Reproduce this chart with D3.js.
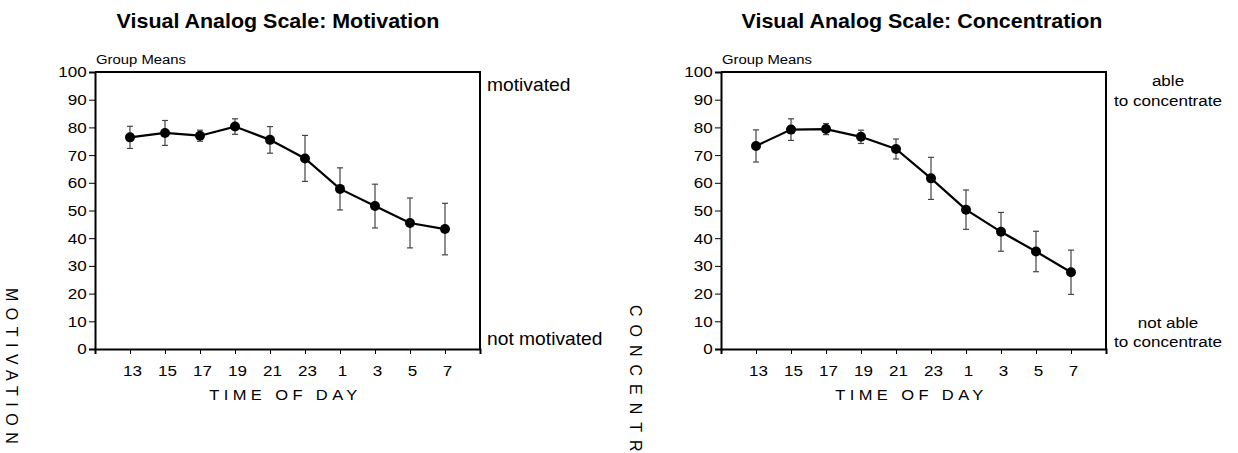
<!DOCTYPE html>
<html>
<head>
<meta charset="utf-8">
<script src="https://cdn.jsdelivr.net/npm/d3@7"></script>
<style>
	body { margin: 0; background: #fff; }
	svg { font-family: "Liberation Sans", Arial, sans-serif; }
	.axis path, .axis line { stroke: #000; }
	.axis text { fill: #000; }
</style>
</head>
<body>
<div id="chart"></div>
<script>

	// time of day labels (one per measurement)
	var hours = ["13", "15", "17", "19", "21", "23", "1", "3", "5", "7"];

	// motivation group means and error half-widths
	var motivationMeans = [76.4, 78.0, 77.0, 80.3, 75.5, 68.8, 57.8, 51.6, 45.5, 43.3];
	var motivationErr = [4.0, 4.5, 2.0, 2.8, 4.8, 8.3, 7.6, 7.9, 9.0, 9.3];

	// concentration group means and error half-widths
	var concentrationMeans = [73.3, 79.2, 79.4, 76.6, 72.2, 61.6, 50.3, 42.3, 35.2, 27.7];
	var concentrationErr = [5.8, 3.9, 2.0, 2.4, 3.6, 7.6, 7.1, 7.0, 7.3, 8.0];

	var yTicks = [0, 10, 20, 30, 40, 50, 60, 70, 80, 90, 100];

	// glyphs in the original are a bit wider than they are tall
	var SX = 1.1;

	var svg = d3.select("#chart").append("svg")
	.attr("width", 1238)
	.attr("height", 453);

	// text placed at (x, y) and stretched horizontally
	var addText = function(parent, x, y, lines, size, anchor, weight, gap) {
		var t = parent.append("text")
		.attr("transform", "translate(" + x + "," + y + ")scale(" + SX + ",1)")
		.attr("text-anchor", anchor || "start")
		.style("font-size", size + "px")
		.style("font-weight", weight || "normal");
		lines.forEach(function(l, k) {
			t.append("tspan")
			.attr("x", 0)
			.attr("dy", k === 0 ? 0 : gap)
			.text(l);
		});
		return t;
	}

	var drawPanel = function(opts) {

		var width = 385, height = 277;
		var x = d3.scaleLinear().domain([0, hours.length + 1]).range([0, width]);
		var y = d3.scaleLinear().domain([0, 100]).range([height, 0]);

		var g = svg.append("g")
		.attr("transform", "translate(" + opts.left + "," + opts.top + ")");

		// title
		addText(svg, opts.titleX, 28, [opts.title], 19.5, "middle", "bold");

		addText(g, 1, -8, ["Group Means"], 13.5);

		// y axis
		g.append("g")
		.attr("class", "y axis")
		.call(d3.axisLeft(y).tickValues(yTicks).tickSize(6).tickPadding(1.5))
		.call(function(s) {
			s.select(".domain").attr("stroke-width", 2);
			s.selectAll("text")
			.style("font-size", "15.5px")
			.attr("transform", "scale(" + SX + ",1)");
		});

		// x axis
		var xTicks = d3.range(0, hours.length + 2);
		g.append("g")
		.attr("class", "x axis")
		.attr("transform", "translate(0," + height + ")")
		.call(d3.axisBottom(x).tickValues(xTicks).tickSize(5).tickPadding(11)
			.tickFormat(function(d) { return hours[d - 1] || ""; }))
		.call(function(s) {
			s.select(".domain").attr("stroke-width", 2);
			s.selectAll("text")
			.style("font-size", "15.5px")
			.attr("transform", "translate(2,0)scale(" + SX + ",1)");
		});

		// frame top and right
		g.append("path")
		.attr("d", "M0,0H" + width + "V" + height)
		.attr("fill", "none")
		.attr("stroke", "#000")
		.attr("stroke-width", 2);

		// x title
		addText(g, width / 2 - 2, height + 51, ["TIME OF DAY"], 15, "middle")
		.style("letter-spacing", "4px");

		// y title, rotated
		svg.append("text")
		.attr("transform", "translate(" + opts.yTitleX + "," + opts.yTitleY + ")rotate(90)")
		.style("font-size", "16px")
		.style("letter-spacing", opts.yTitleSpacing + "px")
		.text(opts.yTitle);

		// error bars
		var bars = g.selectAll(".err")
		.data(opts.means)
		.enter()
		.append("g")
		.attr("class", "err")
		.attr("stroke", "#444")
		.attr("stroke-width", 1.2);

		bars.append("line")
		.attr("x1", function(d, i) { return x(i + 1); })
		.attr("x2", function(d, i) { return x(i + 1); })
		.attr("y1", function(d, i) { return y(d + opts.err[i]); })
		.attr("y2", function(d, i) { return y(d - opts.err[i]); });

		bars.append("line")
		.attr("x1", function(d, i) { return x(i + 1) - 3; })
		.attr("x2", function(d, i) { return x(i + 1) + 3; })
		.attr("y1", function(d, i) { return y(d + opts.err[i]); })
		.attr("y2", function(d, i) { return y(d + opts.err[i]); });

		bars.append("line")
		.attr("x1", function(d, i) { return x(i + 1) - 3; })
		.attr("x2", function(d, i) { return x(i + 1) + 3; })
		.attr("y1", function(d, i) { return y(d - opts.err[i]); })
		.attr("y2", function(d, i) { return y(d - opts.err[i]); });

		// line
		var line = d3.line()
		.x(function(d, i) { return x(i + 1); })
		.y(function(d) { return y(d); });

		g.append("path")
		.datum(opts.means)
		.attr("d", line)
		.attr("fill", "none")
		.attr("stroke", "#000")
		.attr("stroke-width", 2.2);

		g.selectAll(".dot")
		.data(opts.means)
		.enter()
		.append("circle")
		.attr("class", "dot")
		.attr("cx", function(d, i) { return x(i + 1); })
		.attr("cy", function(d) { return y(d); })
		.attr("r", 5);

		// scale anchors on the right
		opts.anchors.forEach(function(a) {
			addText(g, width + a.dx, y(a.value) + a.dy, a.lines, a.size, a.anchor, "normal", a.gap);
		});

	}

	drawPanel({
		left: 95, top: 72,
		titleX: 278,
		title: "Visual Analog Scale: Motivation",
		yTitle: "MOTIVATION",
		yTitleX: 6, yTitleY: 288,
		yTitleSpacing: 6.5,
		means: motivationMeans,
		err: motivationErr,
		anchors: [
			{ value: 100, lines: ["motivated"], dx: 7, dy: 19, anchor: "start", size: 17.5 },
			{ value: 0, lines: ["not motivated"], dx: 7, dy: -4, anchor: "start", size: 17.5 }
		]
	});

	drawPanel({
		left: 721, top: 72,
		titleX: 922,
		title: "Visual Analog Scale: Concentration",
		yTitle: "CONCENTRATION",
		yTitleX: 630, yTitleY: 305,
		yTitleSpacing: 8,
		means: concentrationMeans,
		err: concentrationErr,
		anchors: [
			{ value: 100, lines: ["able", "to concentrate"], dx: 62, dy: 14, anchor: "middle", size: 15.5, gap: 20 },
			{ value: 0, lines: ["not able", "to concentrate"], dx: 62, dy: -21, anchor: "middle", size: 15.5, gap: 19 }
		]
	});

</script>
</body>
</html>
